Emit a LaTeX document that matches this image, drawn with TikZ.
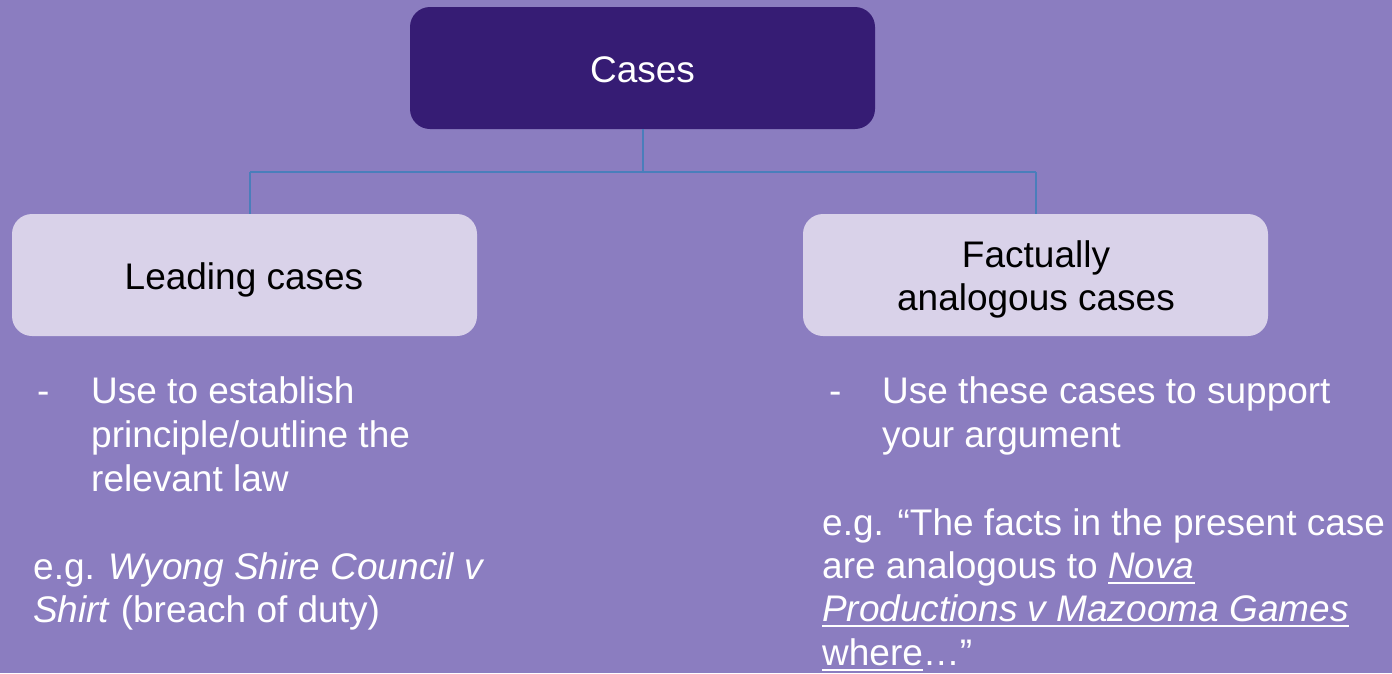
\documentclass[tikz,border=0pt]{standalone}
\usepackage{fontspec}
\setmainfont{Liberation Sans}
\definecolor{bgc}{RGB}{139,125,192}
\definecolor{darkc}{RGB}{54,28,116}
\definecolor{litec}{RGB}{217,210,233}
\definecolor{connc}{RGB}{74,126,187}
\newsavebox\myulbox
\newcommand\myul[1]{\sbox\myulbox{#1}\rlap{\rule[-6pt]{\wd\myulbox}{2.5pt}}\usebox\myulbox}
\begin{document}
\begin{tikzpicture}[x=1pt,y=-1pt,
  font=\fontsize{37}{44}\selectfont,
  boxc/.style={rounded corners=20pt, minimum width=465pt, minimum height=122pt, inner sep=0pt},
  lbl/.style={anchor=base, inner sep=0pt},
  body/.style={anchor=base west, inner sep=0pt, text=white},
  conn/.style={draw=connc, line width=2pt}]
\fill[bgc] (0,0) rectangle (1392,673);
\useasboundingbox (0,0) rectangle (1392,673);

% boxes
\node[boxc, fill=darkc] (T) at (642.5,68) {};
\node[lbl, text=white] (Tt) at (642.5,82) {Cases};
\node[boxc, fill=litec] (L) at (244.5,275) {};
\node[lbl] (Lt) at (244,289) {Leading cases};
\node[boxc, fill=litec] (R) at (1035.5,275) {};
\node[lbl] (Rt1) at (1036,267) {Factually};
\node[lbl] (Rt2) at (1036,310) {analogous cases};

% connectors
\coordinate (J) at (642.5,172);
\coordinate (JL) at (250,172);
\coordinate (JR) at (1035.5,172);
\draw[conn] (T.south) -- (J);
\draw[conn] (JL) -- (JR);
\draw[conn] (JL) -- (JL |- L.north);
\draw[conn] (JR) -- (R.north);

% left text
\node[body] (ld) at (37,403) {-};
\node[body] (l1) at (91,403) {Use to establish};
\node[body] (l2) at (91,447) {principle/outline the};
\node[body] (l3) at (91,491) {relevant law};
\node[body] (l4) at (33,579) {e.g. \textit{Wyong Shire Council v}};
\node[body] (l5) at (33,622) {\textit{Shirt} (breach of duty)};

% right text
\node[body] (rd) at (829,403) {-};
\node[body] (r1) at (882,403) {Use these cases to support};
\node[body] (r2) at (882,447) {your argument};
\node[body] (r3) at (822,535) {e.g. “The facts in the present case};
\node[body] (r4) at (822,578) {are analogous to \myul{\textit{Nova}}};
\node[body] (r5) at (822,621) {\myul{\textit{Productions v Mazooma Games}}};
\node[body] (r6) at (822,665) {\myul{where}…”};
\end{tikzpicture}
\end{document}
